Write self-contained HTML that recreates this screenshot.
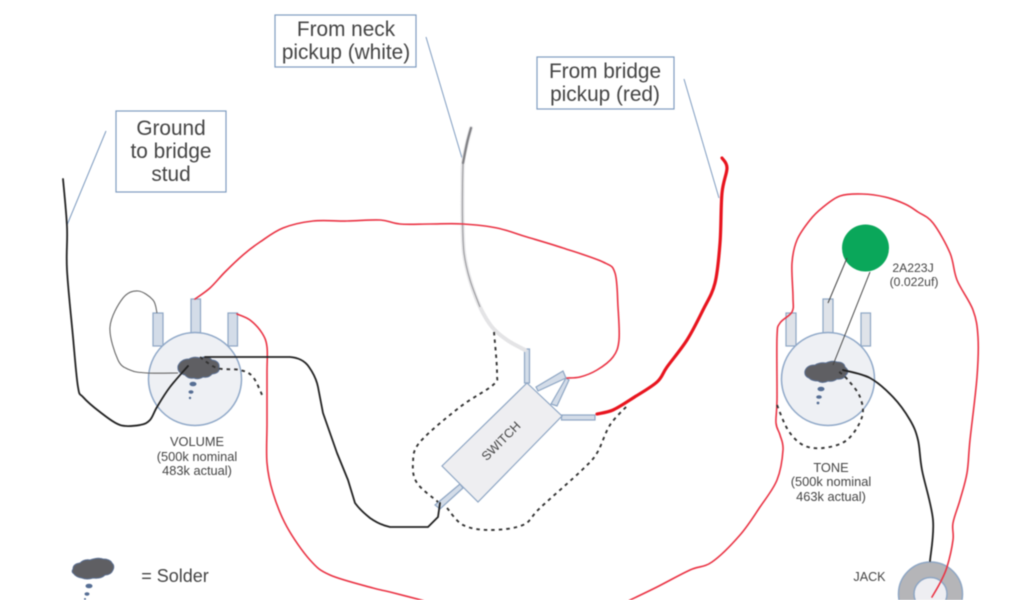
<!DOCTYPE html>
<html><head><meta charset="utf-8"><style>
html,body{margin:0;padding:0;background:#fff;width:1024px;height:600px;overflow:hidden}
svg{display:block;filter:blur(.4px)}
text{font-family:"Liberation Sans",sans-serif;fill:#444;text-anchor:middle}
.b{fill:#fff;stroke:#7f9cc0;stroke-width:1.2}
.t{fill:#d3dce8;stroke:#8ea6c4;stroke-width:1.2}
.g{fill:#dfe3e9;stroke:#8ea6c4;stroke-width:1.2}
.c{fill:#eef0f4;stroke:#8fa8c8;stroke-width:1.5}
.r{fill:none;stroke:#ea3344;stroke-width:1.6;stroke-linecap:round;stroke-linejoin:round}
.k{fill:none;stroke:#222;stroke-width:1.8;stroke-linecap:round;stroke-linejoin:round}
.d{fill:none;stroke:#333;stroke-width:1.9;stroke-dasharray:3.5 4}
.s{fill:#5f5f63;stroke:#5a6f92;stroke-width:1}
.dot{fill:#566e94}
.l{fill:none;stroke:#7f9cc0;stroke-width:1}
</style></head><body>
<svg width="1024" height="600" viewBox="0 0 1024 600" xmlns="http://www.w3.org/2000/svg">
<!-- label boxes -->
<rect class="b" x="116" y="111" width="110" height="81"/>
<text font-size="20.8" x="171" y="135">Ground</text>
<text font-size="20.8" x="171" y="158">to bridge</text>
<text font-size="20.8" x="171" y="181">stud</text>
<rect class="b" x="275" y="15" width="141" height="52"/>
<text font-size="20.8" x="346" y="36">From neck</text>
<text font-size="20.8" x="346" y="59">pickup (white)</text>
<rect class="b" x="537" y="57" width="137" height="52"/>
<text font-size="20.8" x="605" y="78">From bridge</text>
<text font-size="20.8" x="605" y="101">pickup (red)</text>
<path class="l" d="M106 131L67 225M426 37L462 158M684 79L719 198"/>

<!-- volume pot -->
<rect class="t" x="153" y="313" width="10" height="33"/>
<rect class="t" x="191" y="299" width="9.500" height="34"/>
<rect class="t" x="228" y="313" width="9.500" height="33"/>
<circle class="c" cx="195" cy="379" r="46.500"/>
<path class="s" d="M178 366q3-7 11-7q5-3 11-1q8-3 12 2q8 1 7 8q1 5-7 6q-3 4-9 3q-5 3-9 1q-6 1-9-3q-8-2-7-9z"/>
<ellipse class="dot" cx="193" cy="384" rx="3.500" ry="2.300"/>
<ellipse class="dot" cx="191" cy="392" rx="2.500" ry="1.700"/>
<circle class="dot" cx="190" cy="398" r="1.200"/>
<text font-size="12.800" x="197" y="446">VOLUME</text>
<text font-size="12.800" x="197" y="461">(500k nominal</text>
<text font-size="12.800" x="197" y="475">483k actual)</text>

<!-- tone pot -->
<rect class="g" x="786" y="313" width="10" height="33"/>
<rect class="g" x="823" y="299" width="10" height="34"/>
<rect class="g" x="861" y="313" width="9.500" height="33"/>
<circle class="c" cx="828" cy="379" r="46.500"/>
<path class="s" d="M805 371q2-6 10-6q5-3 11-2q6-3 11-1q7 0 8 5q5 4 1 8q-3 5-9 4q-4 3-9 2q-6 3-10 0q-6 0-9-3q-5-2-4-7z"/>
<ellipse class="dot" cx="821" cy="389" rx="3.500" ry="2.300"/>
<ellipse class="dot" cx="819" cy="397" rx="2.800" ry="1.800"/>
<circle class="dot" cx="818" cy="403" r="1.400"/>
<text font-size="12.800" x="831" y="472">TONE</text>
<text font-size="12.800" x="831" y="486">(500k nominal</text>
<text font-size="12.800" x="831" y="501">463k actual)</text>

<!-- capacitor -->
<circle cx="865.500" cy="248" r="23.500" fill="#0aa75a"/>
<text font-size="12.200" x="913" y="272">2A223J</text>
<text font-size="12.200" x="914" y="286">(0.022uf)</text>
<path d="M847 258L828 303M870 272L833 365" fill="none" stroke="#444" stroke-width="1"/>

<!-- switch -->
<rect class="t" x="524.500" y="349" width="5" height="34"/>
<path class="t" d="M536 387L563 371L566 378L538 391Z"/>
<path class="t" d="M551 404L566 378L569 380L557 406Z"/>
<rect class="t" x="561.500" y="415" width="33.500" height="5"/>
<path class="t" d="M435 505L460 484L463 488L440 509Z"/>
<path d="M527 383L562 416L478 502L442 466Z" fill="#eeeef1" stroke="#8ea6c4" stroke-width="1.200"/>
<text font-size="12.500" x="504" y="444" transform="rotate(-45 504 444)">SWITCH</text>

<!-- jack -->
<circle cx="930.500" cy="594" r="32" fill="#b5b5b8" stroke="#8ea6c4" stroke-width="1.500"/>
<circle cx="930.500" cy="594" r="16.500" fill="#eeeef2" stroke="#8ea6c4" stroke-width="1.500"/>
<text font-size="12.600" x="869.500" y="581">JACK</text>

<!-- solder key -->
<path class="s" d="M73 569q0-5 7-6q4-4 10-3q8-3 13-1q7 0 9 4q3 3 1 7q-2 5-8 5q-4 4-12 3q-6 2-11 0q-6-1-8-4q-3-2-1-5z"/>
<ellipse class="dot" cx="89" cy="586" rx="3.500" ry="2.300"/>
<ellipse class="dot" cx="87" cy="594" rx="2.500" ry="1.700"/>
<circle class="dot" cx="85" cy="599" r="1"/>
<text font-size="18" x="175" y="582">= Solder</text>

<!-- neck white wire -->
<path class="w" d="M471 128L467 143L463 163L462.500 187L462.500 220L464 253L470 280L480 307L492 327L507 340L525 350" fill="none" stroke="#e4e4e6" stroke-width="4" stroke-linecap="round"/>
<path class="w" d="M463 163L462.500 187L462.500 220L464 253L470 280L480 307" fill="none" stroke="#8c8c90" stroke-width="0.900"/>
<path class="w" d="M471 128L467 143L463 163" fill="none" stroke="#808084" stroke-width="2.200" stroke-linecap="round"/>

<!-- bridge thick red -->
<path class="w" d="M722 158L727 168L722 193L720 243L715 283L703 310L687 340L667 367L657 382L633 398L613 410L597 414" fill="none" stroke="#e8141e" stroke-width="3.200" stroke-linecap="round"/>

<!-- thin red wires -->
<path class="r w" d="M195 299L210 288L225 272L243 255L260 242L283 228L313 221L347 221L380 220L400 224L430 224L463 224L497 228L527 237L563 248L603 262L615 273L618 307L619 340L613 357L597 370L580 377L567 378"/>
<path class="r w" d="M237 314L250 320L262 333L267 347L267 373L267 423L267 463L273 493L287 527L310 560L330 575L373 588L390 592L425 601"/>
<path class="r w" d="M628 601L657 587L690 570L712 562L740 535L760 507L777 480L783 450L780 435L776 423L777 400L777 337L780 323L792 312L793 297L792 263L797 240L810 220L822 208L840 196L862 194L885 197L905 204L918 212L933 223L950 253L957 280L973 310L978 337L977 377L970 440L967 473L960 500L953 523L953 540L947 567L940 583L932 597"/>

<!-- black wires -->
<path class="k w" d="M63 179L67 227L67 270L73 337L78 387L83 397L100 412L120 425L140 425L150 420L157 407L170 387L188 366"/>
<path class="w" d="M157 313L153 300L138 291L123 298L110 327L118 360L130 370L147 373L178 373" fill="none" stroke="#666" stroke-width="1.100"/>
<path class="k" d="M205 357L290 357Q303 358 309 367Q316 377 318 387L323 413L337 453L348 480L355 503Q360 510 370 518Q380 525 390 527L428 527L438 517L440 503"/>
<path class="k w" d="M843 370L870 378L893 397L910 420L918 440L922 470L933 520L930 561"/>

<!-- dotted wires -->
<path class="d w" d="M200 357L217 368L240 370L253 377L263 397"/>
<path class="d w" d="M494 332L497 373L493 385L460 407L420 442L413 463L417 483L438 502"/>
<path class="d w" d="M447 508L463 525L490 530L523 525L540 508L582 470L597 453L610 425L628 405"/>
<path class="d w" d="M777 405L788 430L803 445L823 448L847 440L862 417L860 397L848 380L837 370"/>
</svg>
<script>
document.querySelectorAll('path.w').forEach(function(e){
  var n=e.getAttribute('d').match(/-?[\d.]+/g).map(Number),p=[];
  for(var i=0;i<n.length;i+=2)p.push([n[i],n[i+1]]);
  var d='M'+p[0][0]+' '+p[0][1];
  for(i=0;i<p.length-1;i++){
    var a=p[Math.max(i-1,0)],b=p[i],c=p[i+1],f=p[Math.min(i+2,p.length-1)];
    d+='C'+(b[0]+(c[0]-a[0])/6).toFixed(1)+' '+(b[1]+(c[1]-a[1])/6).toFixed(1)+' '+(c[0]-(f[0]-b[0])/6).toFixed(1)+' '+(c[1]-(f[1]-b[1])/6).toFixed(1)+' '+c[0]+' '+c[1];
  }
  e.setAttribute('d',d);
});
</script>
</body></html>
